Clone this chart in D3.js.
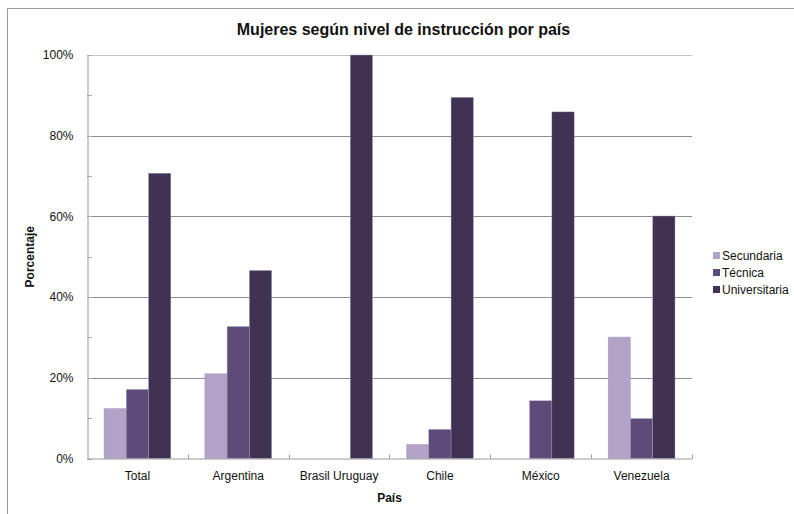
<!DOCTYPE html>
<html>
<head>
<meta charset="utf-8">
<script src="https://cdn.jsdelivr.net/npm/d3@7/dist/d3.min.js"></script>
<style>
html,body{margin:0;padding:0;background:#fff;}
svg text{font-family:"Liberation Sans",Arial,sans-serif;}
</style>
</head>
<body>
<svg id="chart" width="794" height="514"></svg>
<script>
const categories = ["Total", "Argentina", "Brasil Uruguay", "Chile", "México", "Venezuela"];
const seriesNames = ["Secundaria", "Técnica", "Universitaria"];
const secundaria = [12.4, 21.0, 0, 3.5, 0, 30.1];
const tecnica = [17.1, 32.7, 0, 7.2, 14.3, 9.9];
const universitaria = [70.7, 46.6, 100, 89.5, 85.9, 60.1];
const yTicks = [0, 20, 40, 60, 80, 100];
const colors = ["#b3a2c8", "#5f4b7a", "#403253"];

(function () {
const seriesValues = [secundaria, tecnica, universitaria];
const svg = d3.select("#chart");

// outer chart border (clipped)
svg.append("path").attr("d", "M7.5,520 V8.5 H800").attr("fill", "none").attr("stroke", "#9a9a9a").attr("stroke-width", 1);

const pLeft = 87, pRight = 692, pTop = 55, pBottom = 458.5;
const x0 = d3.scaleBand().domain(categories).range([pLeft, pRight]).padding(0);
const inner = 17;
const x1 = d3.scaleBand().domain(seriesNames).range([inner, x0.bandwidth() - inner]).padding(0);
const y = d3.scaleLinear().domain([0, 100]).range([pBottom, pTop]);

// gridlines
svg.append("g").selectAll("line").data(yTicks.filter(d => d > 0)).join("line")
  .attr("x1", pLeft).attr("x2", pRight)
  .attr("y1", d => Math.round(y(d)) + 0.5).attr("y2", d => Math.round(y(d)) + 0.5)
  .attr("stroke", d => d === 100 ? "#c4c4c4" : "#8e8e8e").attr("stroke-width", 1);

// bars
const data = [];
categories.forEach((c, i) => seriesNames.forEach((s, j) => data.push({c, s, j, v: seriesValues[j][i]})));
svg.append("g").selectAll("rect").data(data.filter(d => d.v > 0)).join("rect")
  .attr("x", d => x0(d.c) + x1(d.s))
  .attr("y", d => y(d.v))
  .attr("width", x1.bandwidth())
  .attr("height", d => y(0) - y(d.v))
  .attr("fill", d => colors[d.j])
  .attr("stroke", "#a99cbb").attr("stroke-width", 0.4);

// y axis
const yAxis = d3.axisLeft(y).tickValues(yTicks).tickFormat(d => d + "%").tickSize(0).tickPadding(14);
const gy = svg.append("g").attr("transform", `translate(${pLeft + 0.5},0)`).call(yAxis);
gy.select(".domain").attr("stroke", "#999");
gy.selectAll("text").attr("font-size", 12).attr("fill", "#111");
// ticks (inside), including minor
svg.append("g").selectAll("line").data(d3.range(0, 101, 10)).join("line")
  .attr("x1", pLeft).attr("x2", pLeft + 5)
  .attr("y1", d => Math.round(y(d)) + 0.5).attr("y2", d => Math.round(y(d)) + 0.5)
  .attr("stroke", "#aaa");

// x axis
const xAxis = d3.axisBottom(x0).tickSize(0).tickPadding(13);
const gx = svg.append("g").attr("transform", `translate(0,${pBottom})`).call(xAxis);
gx.select(".domain").attr("stroke", "#999");
gx.selectAll("text").attr("font-size", 12).attr("fill", "#111");
const boundaries = categories.map(c => x0(c) + x0.bandwidth());
svg.append("g").selectAll("line").data(boundaries).join("line")
  .attr("x1", d => Math.round(d) + 0.5).attr("x2", d => Math.round(d) + 0.5)
  .attr("y1", pBottom).attr("y2", pBottom - 4).attr("stroke", "#999");

// titles
svg.append("text").attr("x", 403.5).attr("y", 35).attr("text-anchor", "middle")
  .attr("font-size", 16).attr("font-weight", "bold").attr("fill", "#111")
  .text("Mujeres según nivel de instrucción por país");
svg.append("text").attr("x", (pLeft + pRight) / 2).attr("y", 502).attr("text-anchor", "middle")
  .attr("font-size", 12).attr("font-weight", "bold").attr("fill", "#111").text("País");
svg.append("text").attr("transform", `translate(34,${(pTop + pBottom) / 2}) rotate(-90)`).attr("text-anchor", "middle")
  .attr("font-size", 12).attr("font-weight", "bold").attr("fill", "#111").text("Porcentaje");

// legend
const lg = svg.append("g").attr("transform", "translate(713,252)");
const items = lg.selectAll("g").data(seriesNames).join("g").attr("transform", (d, i) => `translate(0,${i * 17})`);
items.append("rect").attr("width", 7).attr("height", 7).attr("fill", (d, i) => colors[i]);
items.append("text").attr("x", 9).attr("y", 8).attr("font-size", 12).attr("fill", "#111").text(d => d);
})();
</script>
</body>
</html>
